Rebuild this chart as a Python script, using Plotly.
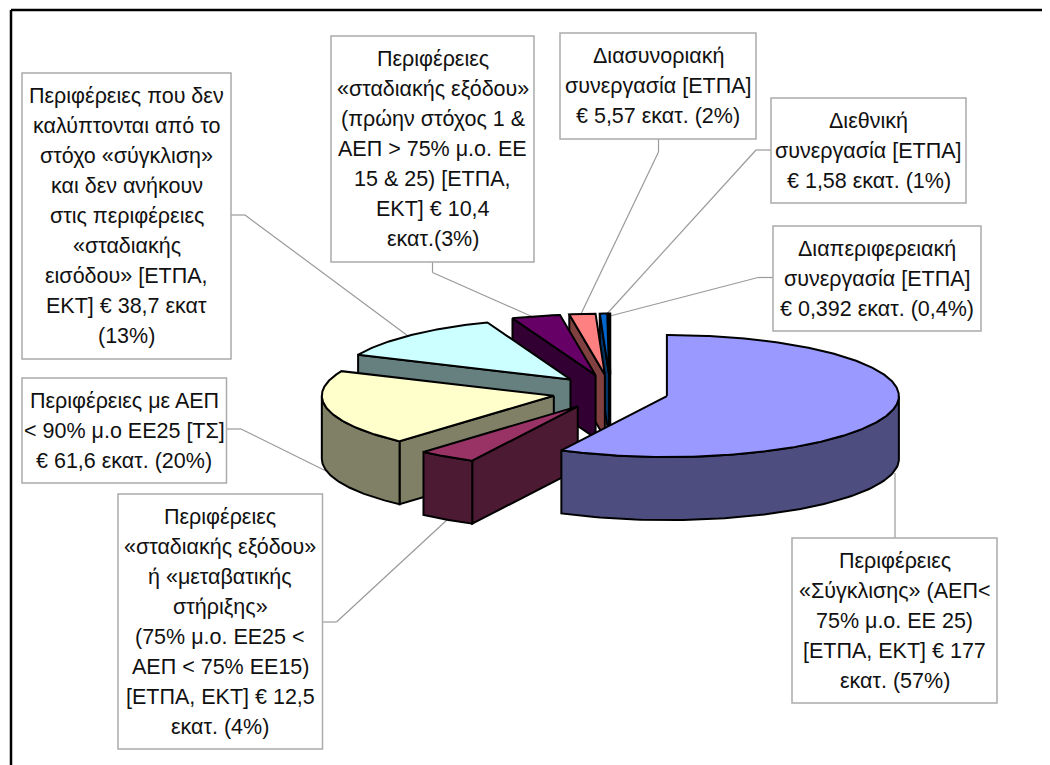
import numpy as np
import plotly.graph_objects as go

# ---- data ----
slice_names = ["Σύγκλιση", "Σταδιακή έξοδος", "Ταμείο Συνοχής", "Ανταγωνιστικότητα",
               "Σταδιακή εισόδος", "Διασυνοριακή", "Διεθνική", "Διαπεριφερειακή"]
slice_values = [177, 12.5, 61.6, 38.7, 10.4, 5.57, 1.58, 0.392]

label_main = ["Περιφέρειες", "«Σύγκλισης» (ΑΕΠ<", "75% μ.ο. ΕΕ 25)", "[ΕΤΠΑ, ΕΚΤ] € 177", "εκατ. (57%)"]
label_maroon = ["Περιφέρειες", "«σταδιακής εξόδου»", "ή «μεταβατικής", "στήριξης»", "(75% μ.ο. ΕΕ25 <",
                "ΑΕΠ < 75% ΕΕ15)", "[ΕΤΠΑ, ΕΚΤ] € 12,5", "εκατ. (4%)"]
label_yellow = ["Περιφέρειες με ΑΕΠ", "< 90% μ.ο ΕΕ25 [ΤΣ]", "€ 61,6 εκατ. (20%)"]
label_cyan = ["Περιφέρειες που δεν", "καλύπτονται από το", "στόχο «σύγκλιση»", "και δεν ανήκουν",
              "στις περιφέρειες", "«σταδιακής", "εισόδου» [ΕΤΠΑ,", "ΕΚΤ] € 38,7 εκατ", "(13%)"]
label_purple = ["Περιφέρειες", "«σταδιακής εξόδου»", "(πρώην στόχος 1 &", "ΑΕΠ > 75% μ.ο. ΕΕ",
                "15 & 25) [ΕΤΠΑ,", "ΕΚΤ] € 10,4", "εκατ.(3%)"]
label_pink = ["Διασυνοριακή", "συνεργασία [ΕΤΠΑ]", "€ 5,57 εκατ. (2%)"]
label_blue = ["Διεθνική", "συνεργασία [ΕΤΠΑ]", "€ 1,58 εκατ. (1%)"]
label_last = ["Διαπεριφερειακή", "συνεργασία [ΕΤΠΑ]", "€ 0,392 εκατ. (0,4%)"]
labels = [label_main, label_maroon, label_yellow, label_cyan, label_purple, label_pink, label_blue, label_last]

# ---- styles / layout ----
top_colors = ["#9999FF", "#993366", "#FFFFCC", "#CCFFFF", "#660066", "#FF8080", "#0066CC", "#CCCCFF"]
side_colors = ["#4D4D80", "#4D1A33", "#808066", "#668080", "#330033", "#804040", "#003366", "#666680"]
boxes = [(792, 538, 997, 703), (118, 494, 322.5, 749), (22, 378, 226.5, 483), (22, 73, 231, 359),
         (331, 36, 534, 262), (560, 33, 756, 139), (771, 98, 966, 203), (773, 226, 981, 331)]
leaders = [
    [(895, 538), (895, 473)],
    [(322.5, 622), (336.5, 622), (448, 519)],
    [(226.5, 429), (241, 429), (326, 471)],
    [(231, 215), (245, 215), (408, 336)],
    [(432.5, 262), (432.5, 272.5), (533, 317)],
    [(658.5, 139), (658.5, 152), (580, 316)],
    [(771, 150), (756, 150), (605, 316)],
    [(773, 277.5), (758, 277.5), (610, 316)],
]
CX, CY, RX, RY, DEPTH = 610.5, 392, 232, 61, 63
EXPLODE, EXPLODE_Y = 58, 0.30
LINE_GAP, FONT_SIZE = 30, 21.5
FONT = "Liberation Sans, Arial, sans-serif"
PAGE_MARGIN = 8   # the page body keeps this offset around the plot

fig = go.Figure()


def add_poly(xs, ys, color):
    fig.add_trace(go.Scatter(x=xs, y=ys, mode="lines", fill="toself", fillcolor=color,
                             line=dict(color="black", width=2), hoverinfo="skip", showlegend=False))


vals = np.array(slice_values, dtype=float)
edges = np.concatenate([[0], np.cumsum(vals)]) / vals.sum() * 360.0

for i in range(len(vals) - 1, -1, -1):
    a1, a2 = edges[i], edges[i + 1]
    mid = np.radians((a1 + a2) / 2)
    ax = CX + EXPLODE * np.sin(mid)
    ay = CY - EXPLODE * EXPLODE_Y * np.cos(mid)

    def rim(angles):
        t = np.radians(angles)
        return ax + RX * np.sin(t), ay - RY * np.cos(t)

    for a, visible in ((a1, np.sin(np.radians(a1)) < -1e-6), (a2, np.sin(np.radians(a2)) > 1e-6)):
        if visible:
            rx, ry = rim(np.array([a]))
            add_poly([ax, rx[0], rx[0], ax, ax], [ay, ry[0], ry[0] + DEPTH, ay + DEPTH, ay], side_colors[i])
    lo, hi = max(a1, 90), min(a2, 270)
    if hi > lo:
        w = np.linspace(lo, hi, 80)
        wx, wy = rim(w)
        add_poly(list(wx) + list(wx[::-1]) + [wx[0]], list(wy) + list(wy[::-1] + DEPTH) + [wy[0]], side_colors[i])
    t = np.linspace(a1, a2, max(3, int((a2 - a1) * 2)))
    tx, ty = rim(t)
    add_poly([ax] + list(tx) + [ax], [ay] + list(ty) + [ay], top_colors[i])

shapes = [
    dict(type="line", x0=11, y0=10, x1=1050, y1=10, line=dict(color="black", width=2.5), layer="below"),
    dict(type="line", x0=11, y0=10, x1=11, y1=765, line=dict(color="black", width=2.5), layer="below"),
]
for pts in leaders:
    for (x0, y0), (x1, y1) in zip(pts[:-1], pts[1:]):
        shapes.append(dict(type="line", x0=x0, y0=y0, x1=x1, y1=y1, line=dict(color="#9A9A9A", width=1.2), layer="below"))
annotations = []
for (x0, y0, x1, y1), lines in zip(boxes, labels):
    shapes.append(dict(type="rect", x0=x0, y0=y0, x1=x1, y1=y1, fillcolor="white",
                       line=dict(color="#ABABAB", width=1.5), layer="below"))
    cy = (y0 + y1) / 2
    for j, line in enumerate(lines):
        annotations.append(dict(x=(x0 + x1) / 2, y=cy + (j - (len(lines) - 1) / 2) * LINE_GAP, text=line,
                                showarrow=False, xanchor="center", yanchor="middle",
                                font=dict(family=FONT, size=FONT_SIZE, color="#111111")))

fig.update_layout(
    width=1050 - PAGE_MARGIN, height=765 - PAGE_MARGIN, margin=dict(l=0, r=0, t=0, b=0), autosize=False,
    paper_bgcolor="white", plot_bgcolor="white", showlegend=False,
    xaxis=dict(range=[PAGE_MARGIN, 1050], visible=False, fixedrange=True),
    yaxis=dict(range=[765, PAGE_MARGIN], visible=False, fixedrange=True),
    shapes=shapes, annotations=annotations,
)
fig.write_html("out.html", config={"displayModeBar": False})
